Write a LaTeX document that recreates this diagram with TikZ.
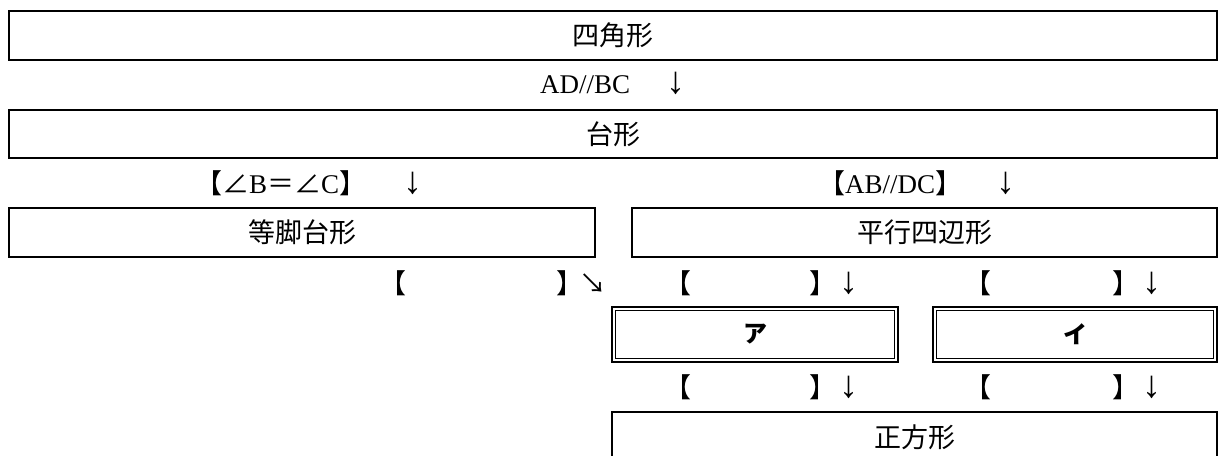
\documentclass[tikz,border=0pt]{standalone}
\usepackage{fontspec}
\setmainfont{Liberation Serif}
\newfontfamily\jp{Noto Sans CJK JP}
\newcommand{\jb}[1]{{\jp #1}}
\newcommand{\dn}{\smash{\rmfamily\fontsize{38}{38}\selectfont ↓}}
\tikzset{
  box/.style={draw, line width=1.5pt, inner sep=0pt, font=\jp\fontsize{27}{30}\selectfont},
  dbox/.style={draw, line width=2.5pt, inner sep=0pt, font=\jp\bfseries\fontsize{24}{28}\selectfont},
  lbl/.style={inner sep=0pt, anchor=west, font=\fontsize{27}{30}\selectfont},
}
\begin{document}
\begin{tikzpicture}[x=1pt,y=-1pt]
\useasboundingbox (0,0) rectangle (1220,455);
\clip (0,0) rectangle (1220,455);
% boxes
\node[box, minimum width=1208pt, minimum height=49pt] (q) at (613,35.5) {四角形};
\node[box, minimum width=1208pt, minimum height=48pt] (t) at (613,134) {台形};
\node[box, minimum width=586pt, minimum height=49pt] (it) at (302,232.5) {等脚台形};
\node[box, minimum width=585pt, minimum height=49pt] (p) at (924.5,232.5) {平行四辺形};
\node[dbox, minimum width=286pt, minimum height=55pt] (a) at (755,334.5) {ア};
\node[dbox, minimum width=284pt, minimum height=55pt] (i) at (1075,334.5) {イ};
\draw[line width=1pt] ([xshift=4.5pt,yshift=-4.5pt]a.north west) rectangle ([xshift=-4.5pt,yshift=4.5pt]a.south east);
\draw[line width=1pt] ([xshift=4.5pt,yshift=-4.5pt]i.north west) rectangle ([xshift=-4.5pt,yshift=4.5pt]i.south east);
\node[box, minimum width=605pt, minimum height=50pt] (s) at (914.5,437) {正方形};
% labels
\node[lbl] (l1) at (540,85) {AD//BC\hspace{36pt}\dn};
\node[lbl] (l2) at (195,183) {\jb{【∠}B\jb{＝∠}C\jb{】}\hspace{37pt}\dn};
\node[lbl] (l3) at (818,183) {\jb{【}AB//DC\jb{】}\hspace{34pt}\dn};
\node[lbl] (l4) at (379,283) {\jb{【\hspace{150pt}】\hspace{-4pt}↘}};
\node[lbl] (l5) at (664,283) {\jb{【\hspace{118pt}】}\hspace{3pt}\dn};
\node[lbl] (l6) at (964,283) {\jb{【\hspace{121pt}】}\hspace{3pt}\dn};
\node[lbl] (l7) at (664,387) {\jb{【\hspace{118pt}】}\hspace{3pt}\dn};
\node[lbl] (l8) at (964,387) {\jb{【\hspace{121pt}】}\hspace{3pt}\dn};
\end{tikzpicture}
\end{document}
